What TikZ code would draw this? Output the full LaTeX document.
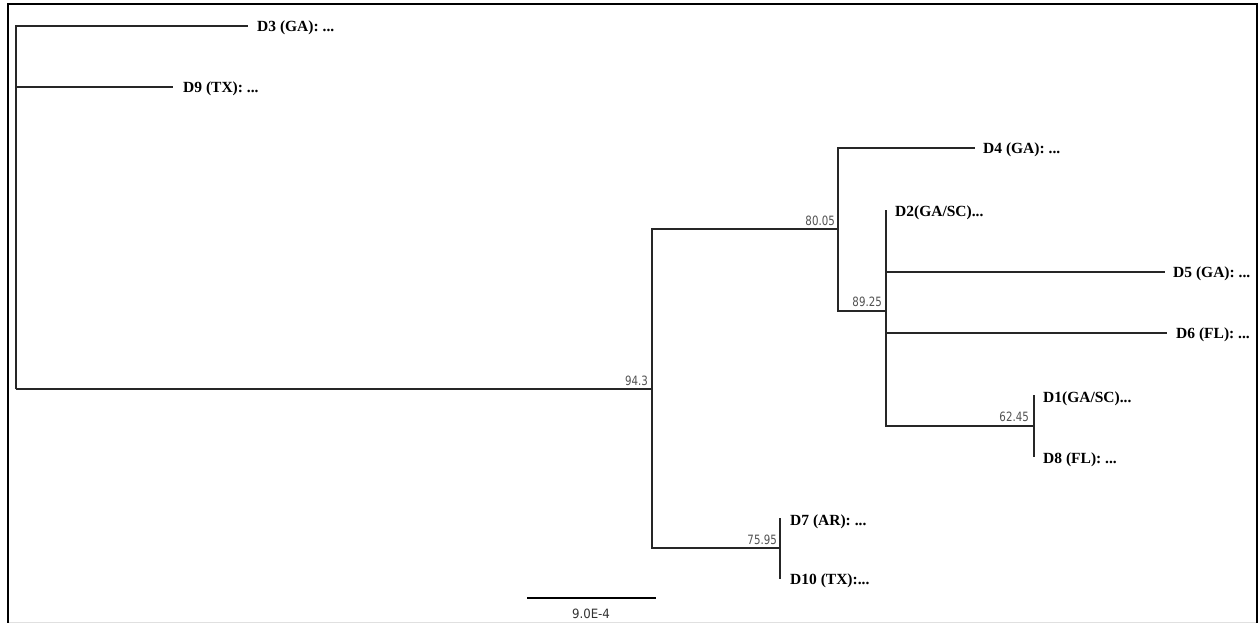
\documentclass[tikz,border=0pt]{standalone}
\usepackage{fontspec}
\setmainfont{Liberation Serif}
\newfontfamily\bootfont{DejaVu Sans}
\newcommand{\bootnum}[1]{\scalebox{0.8}[1]{#1}}
\begin{document}
\begin{tikzpicture}[x=1pt,y=-1pt,
  branch/.style={draw=black!85,line width=1.2pt},
  leaf/.style={anchor=base west,inner sep=0pt,font=\fontsize{15.5}{18}\selectfont\bfseries,yshift=-5.2pt},
  boot/.style={anchor=base east,inner sep=0pt,text=black!68,font=\bootfont\fontsize{12.8}{14}\selectfont},
  frameline/.style={draw=black,line width=2pt}]
\useasboundingbox (0,0) rectangle (1258,623);
\fill[white] (0,0) rectangle (1258,623);
% frame
\draw[frameline] (8,623) -- (8,4) -- (1257,4) -- (1257,623);
\draw[black!12,line width=1pt] (9,622) -- (1256,622);
% internal nodes
\coordinate (root) at (16,389);
\coordinate (n1) at (652,389);
\coordinate (n2) at (838,229);
\coordinate (n3) at (886,311);
\coordinate (n4) at (1034,426);
\coordinate (n5) at (780,548);
% tips
\coordinate (t3) at (248,26);
\coordinate (t9) at (173,87);
\coordinate (t4) at (975,148);
\coordinate (t2) at (886,210);
\coordinate (t5) at (1165,272);
\coordinate (t6) at (1167,333);
\coordinate (t1) at (1034,395);
\coordinate (t8) at (1034,457);
\coordinate (t7) at (780,518);
\coordinate (t10) at (780,579);
% branches
\path[branch] (root) |- (t3);
\path[branch] (root) |- (t9);
\path[branch] (root) -- (n1);
\path[branch] (n1) |- (n2);
\path[branch] (n1) |- (n5);
\path[branch] (n2) |- (t4);
\path[branch] (n2) |- (n3);
\path[branch] (t2) -- (n3);
\path[branch] (n3) |- (t5);
\path[branch] (n3) |- (t6);
\path[branch] (n3) |- (n4);
\path[branch] (n4) -- (t1);
\path[branch] (n4) -- (t8);
\path[branch] (n5) -- (t7);
\path[branch] (n5) -- (t10);
% leaf labels
\node[leaf] (l3) at ([xshift=9pt]t3) {D3 (GA): ...};
\node[leaf] (l9) at ([xshift=10pt]t9) {D9 (TX): ...};
\node[leaf] (l4) at ([xshift=8pt]t4) {D4 (GA): ...};
\node[leaf] (l2) at ([xshift=9pt,yshift=-1pt]t2) {D2(GA/SC)...};
\node[leaf] (l5) at ([xshift=8pt]t5) {D5 (GA): ...};
\node[leaf] (l6) at ([xshift=9pt]t6) {D6 (FL): ...};
\node[leaf] (l1) at ([xshift=9pt,yshift=-2pt]t1) {D1(GA/SC)...};
\node[leaf] (l8) at ([xshift=9pt,yshift=-1pt]t8) {D8 (FL): ...};
\node[leaf] (l7) at ([xshift=10pt,yshift=-2pt]t7) {D7 (AR): ...};
\node[leaf] (l10) at ([xshift=10pt]t10) {D10 (TX):...};
% bootstrap values
\node[boot] (b1) at ([xshift=-4pt,yshift=3.5pt]n1) {\bootnum{94.3}};
\node[boot] (b2) at ([xshift=-3pt,yshift=3.5pt]n2) {\bootnum{80.05}};
\node[boot] (b3) at ([xshift=-4pt,yshift=4.5pt]n3) {\bootnum{89.25}};
\node[boot] (b4) at ([xshift=-5pt,yshift=4.5pt]n4) {\bootnum{62.45}};
\node[boot] (b5) at ([xshift=-3pt,yshift=3.5pt]n5) {\bootnum{75.95}};
% scale bar
\coordinate (s0) at (527,598);
\coordinate (s1) at (656,598);
\path[branch,draw=black] (s0) -- (s1);
\node[boot,anchor=base,text=black!80] (sl) at (591,618) {\scalebox{0.92}[1]{9.0E-4}};
\end{tikzpicture}
\end{document}
